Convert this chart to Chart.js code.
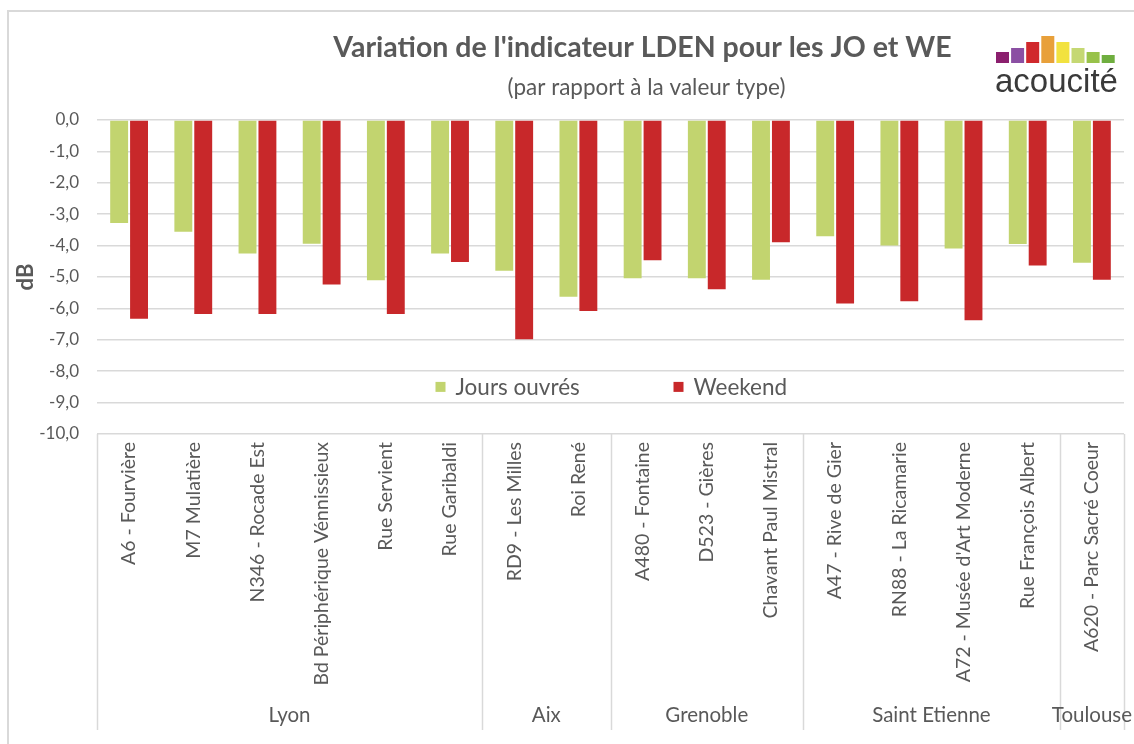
<!DOCTYPE html>
<html lang="fr">
<head>
<meta charset="utf-8">
<title>Variation de l'indicateur LDEN pour les JO et WE</title>
<script src="https://cdn.jsdelivr.net/npm/chart.js@4.4.1/dist/chart.umd.min.js"></script>
<style>
  html, body { margin: 0; padding: 0; background: #fff; }
  #chart1 { display: block; }
</style>
</head>
<body>
<canvas id="chart1" width="1134" height="744"></canvas>
<script>
// data
const sites = [
    'A6 - Fourvière', 'M7 Mulatière', 'N346 - Rocade Est', 'Bd Périphérique Vénnissieux',
    'Rue Servient', 'Rue Garibaldi', 'RD9 - Les Milles', 'Roi René',
    'A480 - Fontaine', 'D523 - Gières', 'Chavant Paul Mistral', 'A47 - Rive de Gier',
    'RN88 - La Ricamarie', "A72 - Musée d'Art Moderne", 'Rue François Albert', 'A620 - Parc Sacré Coeur'
];
const cities = ['Lyon', 'Aix', 'Grenoble', 'Saint Etienne', 'Toulouse'];
const sitesPerCity = [6, 2, 3, 4, 1];
const joursOuvres = [-3.28, -3.56, -4.25, -3.94, -5.10, -4.25, -4.80, -5.63, -5.04, -5.04, -5.09, -3.70, -4.00, -4.09, -3.95, -4.55];
const weekend = [-6.33, -6.18, -6.18, -5.24, -6.18, -4.52, -6.98, -6.08, -4.47, -5.39, -3.89, -5.84, -5.77, -6.38, -4.63, -5.09];
const seriesNames = ['Jours ouvrés', 'Weekend'];
const yMin = -10;
const yMax = 0;

const grey = '#595959';
const lineGrey = '#d9d9d9';
const green = '#c2d46f';
const red = '#c8282a';
const font = 'Lato, "Open Sans", sans-serif';

// everything Excel draws around the plot: frame, titles, logo, legend, 2-level category axis
const decorations = {
    id: 'decorations',
    afterDraw(chart) {
        const ctx = chart.ctx;
        const area = chart.chartArea;
        const xs = chart.scales.x;
        const ys = chart.scales.y;
        const mid = (area.left + area.right) / 2;
        ctx.save();

        // outer frame
        ctx.strokeStyle = lineGrey;
        ctx.lineWidth = 2;
        ctx.beginPath();
        ctx.moveTo(8, chart.height);
        ctx.lineTo(8, 11);
        ctx.lineTo(chart.width, 11);
        ctx.stroke();

        // title + subtitle
        ctx.fillStyle = grey;
        ctx.textAlign = 'center';
        ctx.textBaseline = 'alphabetic';
        ctx.font = 'bold 28.5px ' + font;
        ctx.fillText("Variation de l'indicateur LDEN pour les JO et WE", mid + 32, 57);
        ctx.font = '22.5px ' + font;
        ctx.fillText('(par rapport à la valeur type)', mid + 36, 95);

        // acoucité logo
        const logoCols = ['#8b1f6e', '#8b4fa3', '#d0282c', '#e8a03a', '#f2e23f', '#c5d873', '#98c24a', '#6fae3f'];
        const logoTops = [52, 48, 42, 36, 42, 48, 52, 55];
        logoCols.forEach((c, i) => {
            ctx.fillStyle = c;
            ctx.fillRect(996 + i * 15.1, logoTops[i], 13, 63 - logoTops[i]);
        });
        ctx.fillStyle = '#3a3a3a';
        ctx.textAlign = 'left';
        ctx.font = '33px "Liberation Sans", Arial, sans-serif';
        ctx.fillText('acoucité', 995, 92);

        // legend, sitting inside the plot between -8 and -9
        const ly = ys.getPixelForValue(-8.5);
        const legendItems = [[mid - 175, green], [mid + 63, red]];
        ctx.font = '22.5px ' + font;
        ctx.textBaseline = 'middle';
        legendItems.forEach(([lx, col], i) => {
            ctx.fillStyle = col;
            ctx.fillRect(lx, ly - 5, 10, 10);
            ctx.fillStyle = grey;
            ctx.fillText(seriesNames[i], lx + 20, ly + 1);
        });

        // category box
        const catW = (area.right - area.left) / sites.length;
        const boxBottom = area.bottom + 296;
        ctx.strokeStyle = lineGrey;
        ctx.lineWidth = 1.5;
        let start = 0;
        const edges = [0];
        sitesPerCity.forEach(n => { start += n; edges.push(start); });
        edges.forEach(e => {
            const ex = Math.round(area.left + e * catW) + 0.5;
            ctx.beginPath();
            ctx.moveTo(ex, area.bottom);
            ctx.lineTo(ex, boxBottom);
            ctx.stroke();
        });

        // site labels, rotated
        ctx.fillStyle = grey;
        ctx.font = '19.5px ' + font;
        ctx.textAlign = 'right';
        ctx.textBaseline = 'middle';
        sites.forEach((s, i) => {
            ctx.save();
            ctx.translate(xs.getPixelForValue(i), area.bottom + 8);
            ctx.rotate(-Math.PI / 2);
            ctx.fillText(s, 0, 0);
            ctx.restore();
        });

        // city labels
        ctx.textAlign = 'center';
        ctx.textBaseline = 'alphabetic';
        ctx.font = '20.5px ' + font;
        cities.forEach((c, i) => {
            const cx = area.left + (edges[i] + edges[i + 1]) / 2 * catW;
            ctx.fillText(c, cx, area.bottom + 288);
        });

        ctx.restore();
    }
};

const ctx = document.querySelector('#chart1');

new Chart(ctx, {
    type: 'bar',
    data: {
        labels: sites,
        datasets: [{
            label: seriesNames[0],
            data: joursOuvres,
            backgroundColor: green,
            borderWidth: 0
        }, {
            label: seriesNames[1],
            data: weekend,
            backgroundColor: red,
            borderWidth: 0
        }]
    },
    options: {
        responsive: false,
        animation: false,
        categoryPercentage: 0.62,
        barPercentage: 0.9,
        layout: {
            padding: { top: 120, bottom: 310, right: 10, left: 0 }
        },
        plugins: {
            legend: { display: false },
            tooltip: { enabled: false },
            title: { display: false }
        },
        scales: {
            x: {
                display: false
            },
            y: {
                min: yMin,
                max: yMax,
                afterFit(scale) {
                    scale.width = 97;
                },
                ticks: {
                    stepSize: 1,
                    color: grey,
                    padding: 18,
                    font: { family: font, size: 17 },
                    callback: v => v.toFixed(1).replace('.', ',')
                },
                grid: {
                    color: lineGrey,
                    lineWidth: 1.5,
                    drawTicks: false
                },
                border: { display: false },
                title: {
                    display: true,
                    text: 'dB',
                    color: grey,
                    padding: { top: 13 },
                    font: { family: font, size: 22, weight: 'bold' }
                }
            }
        }
    },
    plugins: [decorations]
});
</script>
</body>
</html>
